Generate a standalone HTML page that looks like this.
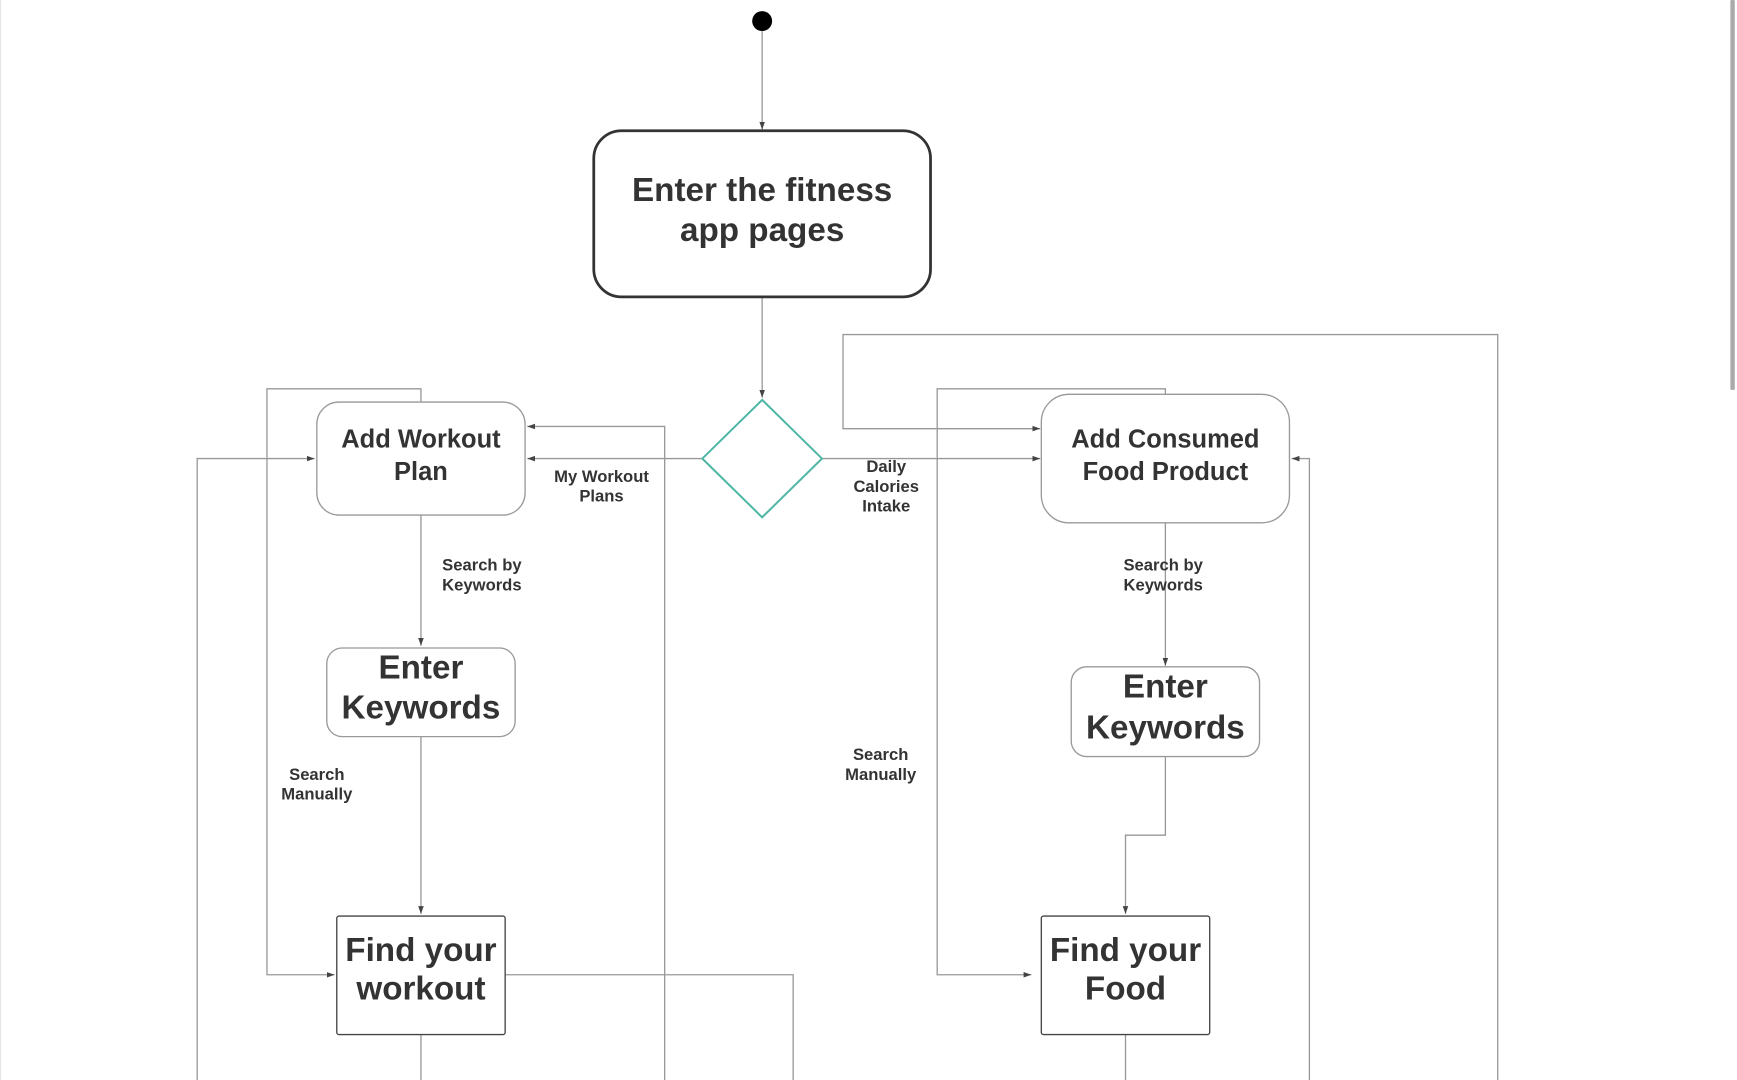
<!DOCTYPE html>
<html><head><style>html,body{margin:0;padding:0;background:#fff;overflow:hidden}svg{display:block}</style></head>
<body>
<svg width="1737" height="1080" viewBox="0 0 1568 975" preserveAspectRatio="none" xmlns="http://www.w3.org/2000/svg">
<defs><marker id="a" markerWidth="8" markerHeight="8" refX="7" refY="4" orient="auto" markerUnits="userSpaceOnUse"><path d="M0,1.5 L7,4 L0,6.5 z" fill="#444"/></marker></defs>
<rect x="0" y="0" width="1568" height="975" fill="#fff"/>
<line x1="0.5" y1="0" x2="0.5" y2="975" stroke="#e6e6e6"/>
<rect x="1562" y="0" width="4" height="352" fill="#aaa" rx="1"/>
<g fill="none" stroke="#999" stroke-width="1.2">
<path d="M688,28 V117" marker-end="url(#a)"/>
<path d="M688,268 V359" marker-end="url(#a)"/>
<path d="M634,414 H476" marker-end="url(#a)"/>
<path d="M600,975 V385 H476" marker-end="url(#a)"/>
<path d="M742,414 H939" marker-end="url(#a)"/>
<path d="M1352,975 V302 H761 V387 H939" marker-end="url(#a)"/>
<path d="M1182,975 V414 H1166" marker-end="url(#a)"/>
<path d="M1052,472 V601" marker-end="url(#a)"/>
<path d="M1052,683 V754 H1016 V825" marker-end="url(#a)"/>
<path d="M1016,934 V975"/>
<path d="M1052,356 V351 H846 V880 H931" marker-end="url(#a)"/>
<path d="M380,363 V351 H241 V880 H302" marker-end="url(#a)"/>
<path d="M178,975 V414 H284" marker-end="url(#a)"/>
<path d="M380,465 V583" marker-end="url(#a)"/>
<path d="M380,665 V825" marker-end="url(#a)"/>
<path d="M380,934 V975"/>
<path d="M456,880 H716 V975"/>
</g>
<circle cx="688" cy="19" r="9" fill="#000"/>
<rect x="536" y="118" width="304" height="150" rx="25" fill="#fff" stroke="#333" stroke-width="2.5"/>
<polygon points="688,361 742,414 688,467 634,414" fill="#fff" stroke="#4db6a4" stroke-width="1.8"/>
<g fill="#fff" stroke="#999" stroke-width="1.2">
<rect x="286" y="363" width="188" height="102" rx="20"/>
<rect x="940" y="356" width="224" height="116" rx="25"/>
<rect x="295" y="585" width="170" height="80" rx="14"/>
<rect x="967" y="602" width="170" height="81" rx="14"/>
</g>
<g fill="#fff" stroke="#444" stroke-width="1.2">
<rect x="304" y="827" width="152" height="107" rx="2"/>
<rect x="940" y="827" width="152" height="107" rx="2"/>
</g>
<g font-family="Liberation Sans, sans-serif" font-weight="bold" fill="#333" text-anchor="middle" dominant-baseline="central">
<text x="688" y="172" font-size="30">Enter the fitness</text>
<text x="688" y="208" font-size="30">app pages</text>
<text x="380" y="397" font-size="23">Add Workout</text>
<text x="380" y="426" font-size="23">Plan</text>
<text x="1052" y="397" font-size="23">Add Consumed</text>
<text x="1052" y="426" font-size="23">Food Product</text>
<text x="380" y="603" font-size="30">Enter</text>
<text x="380" y="639" font-size="30">Keywords</text>
<text x="1052" y="620" font-size="30">Enter</text>
<text x="1052" y="657" font-size="30">Keywords</text>
<text x="380" y="858" font-size="30">Find your</text>
<text x="380" y="893" font-size="30">workout</text>
<text x="1016" y="858" font-size="30">Find your</text>
<text x="1016" y="893" font-size="30">Food</text>
<g font-size="15">
<text x="543" y="430">My Workout</text><text x="543" y="448">Plans</text>
<text x="800" y="421">Daily</text><text x="800" y="439">Calories</text><text x="800" y="457">Intake</text>
<text x="435" y="510">Search by</text><text x="435" y="528">Keywords</text>
<text x="1050" y="510">Search by</text><text x="1050" y="528">Keywords</text>
<text x="286" y="699">Search</text><text x="286" y="717">Manually</text>
<text x="795" y="681">Search</text><text x="795" y="699">Manually</text>
</g>
</g>
</svg>
</body></html>
